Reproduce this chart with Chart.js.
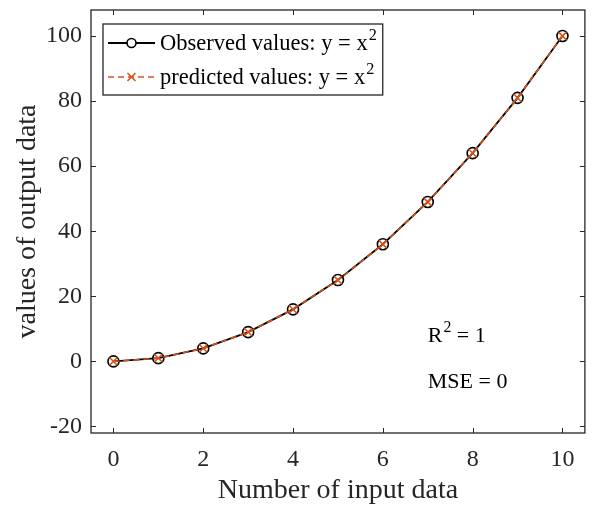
<!DOCTYPE html>
<html><head><meta charset="utf-8">
<script src="https://cdn.jsdelivr.net/npm/chart.js@4.4.0/dist/chart.umd.min.js"></script>
<style>html,body{margin:0;padding:0;background:#fff}#wrap{width:592px;height:506px;position:relative}</style>
</head><body><div id="wrap"><canvas id="c"></canvas></div>
<script>
const inputData = [0,1,2,3,4,5,6,7,8,9,10];
const observedValues = [0,1,4,9,16,25,36,49,64,81,100];
const predictedValues = [0,1,4,9,16,25,36,49,64,81,100];
const xTickValues = [0,2,4,6,8,10];
const yTickValues = [-20,0,20,40,60,80,100];
const seriesLabels = ['Observed values: y = x^2', 'predicted values: y = x^2'];
const annotationTexts = ['R^2 = 1', 'MSE = 0'];
const annotationX = [7, 7];
const annotationY = [7.8, -6.3];
const xTitle = 'Number of input data';
const yTitle = 'values of output data';

const FONT = '"Liberation Serif", "Times New Roman", serif';
const AXIS_COLOR = '#262626';
const ORANGE = '#D95319';

function drawRich(ctx, text, x, y, size, color) {
  const parts = text.split('^');
  ctx.fillStyle = color;
  ctx.textAlign = 'left';
  ctx.font = size + 'px ' + FONT;
  ctx.fillText(parts[0], x, y);
  let w = ctx.measureText(parts[0]).width;
  if (parts.length > 1) {
    const sup = parts[1].charAt(0);
    const rest = parts[1].slice(1);
    const s = size * 0.72;
    ctx.font = s + 'px ' + FONT;
    ctx.fillText(sup, x + w + 1, y - size * 0.38);
    w += ctx.measureText(sup).width + 1;
    ctx.font = size + 'px ' + FONT;
    if (rest) { ctx.fillText(rest, x + w, y); w += ctx.measureText(rest).width; }
  }
  return w;
}
function richWidth(ctx, text, size) {
  const parts = text.split('^');
  ctx.font = size + 'px ' + FONT;
  let w = ctx.measureText(parts[0]).width;
  if (parts.length > 1) {
    ctx.font = (size*0.72) + 'px ' + FONT;
    w += ctx.measureText(parts[1].charAt(0)).width + 1;
    ctx.font = size + 'px ' + FONT;
    w += ctx.measureText(parts[1].slice(1)).width;
  }
  return w;
}

const boxPlugin = {
  id: 'matlabBox',
  beforeDatasetsDraw(chart) {
    const {ctx, chartArea: a, scales: {x, y}} = chart;
    ctx.save();
    ctx.strokeStyle = AXIS_COLOR;
    ctx.lineWidth = 1.3;
    ctx.strokeRect(a.left, a.top, a.right - a.left, a.bottom - a.top);
    ctx.lineWidth = 1;
    const tl = 5;
    ctx.beginPath();
    xTickValues.forEach(v => {
      const px = Math.round(x.getPixelForValue(v)) + 0.5;
      ctx.moveTo(px, a.bottom); ctx.lineTo(px, a.bottom - tl);
      ctx.moveTo(px, a.top); ctx.lineTo(px, a.top + tl);
    });
    yTickValues.forEach(v => {
      const py = Math.round(y.getPixelForValue(v)) + 0.5;
      ctx.moveTo(a.left, py); ctx.lineTo(a.left + tl, py);
      ctx.moveTo(a.right, py); ctx.lineTo(a.right - tl, py);
    });
    ctx.stroke();
    ctx.restore();
  },
  afterDatasetsDraw(chart) {
    const {ctx, chartArea: a, scales: {x, y}} = chart;
    ctx.save();
    ctx.textBaseline = 'middle';
    annotationTexts.forEach((t, i) => {
      drawRich(ctx, t, x.getPixelForValue(annotationX[i]), y.getPixelForValue(annotationY[i]), 22, '#000');
    });
    const fs = 22.5;
    const bl = a.left + 12, bt = a.top + 14;
    const tw = Math.max(...seriesLabels.map(l => richWidth(ctx, l, fs)));
    const bw = 57 + tw + 6, bh = 71;
    ctx.fillStyle = '#fff';
    ctx.fillRect(bl, bt, bw, bh);
    ctx.strokeStyle = AXIS_COLOR;
    ctx.lineWidth = 1.3;
    ctx.strokeRect(bl, bt, bw, bh);
    chart.data.datasets.forEach((ds, i) => {
      const cy = bt + 19 + i * 34;
      const x0 = bl + 5, x1 = bl + 52, cx = (x0 + x1) / 2;
      ctx.strokeStyle = ds.borderColor;
      ctx.lineWidth = ds.borderWidth;
      ctx.setLineDash(ds.borderDash || []);
      ctx.beginPath(); ctx.moveTo(x0, cy); ctx.lineTo(x1, cy); ctx.stroke();
      ctx.setLineDash([]);
      ctx.lineWidth = ds.pointBorderWidth;
      ctx.strokeStyle = ds.pointBorderColor;
      ctx.beginPath();
      if (ds.pointStyle === 'circle') {
        ctx.fillStyle = '#fff';
        ctx.arc(cx, cy, 4.5, 0, Math.PI * 2);
        ctx.fill();
      } else {
        const r = 4;
        ctx.moveTo(cx - r, cy - r); ctx.lineTo(cx + r, cy + r);
        ctx.moveTo(cx - r, cy + r); ctx.lineTo(cx + r, cy - r);
      }
      ctx.stroke();
      ctx.textBaseline = 'middle';
      drawRich(ctx, seriesLabels[i], bl + 57, cy + 1, fs, '#000');
    });
    ctx.restore();
  }
};

new Chart(document.getElementById('c'), {
  type: 'line',
  data: {
    labels: inputData,
    datasets: [
      {
        label: seriesLabels[0],
        data: inputData.map((v, i) => ({x: v, y: observedValues[i]})),
        order: 1,
        borderColor: '#000',
        borderWidth: 1.8,
        pointStyle: 'circle',
        pointRadius: 5.5,
        pointBorderColor: '#000',
        pointBorderWidth: 1.6,
        pointBackgroundColor: 'rgba(0,0,0,0)',
        tension: 0,
        fill: false
      },
      {
        label: seriesLabels[1],
        data: inputData.map((v, i) => ({x: v, y: predictedValues[i]})),
        order: 0,
        borderColor: ORANGE,
        borderWidth: 1.5,
        borderDash: [6, 4],
        pointStyle: 'crossRot',
        pointRadius: 5.5,
        pointBorderColor: ORANGE,
        pointBorderWidth: 1.6,
        pointBackgroundColor: ORANGE,
        tension: 0,
        fill: false
      }
    ]
  },
  options: {
    responsive: true,
    maintainAspectRatio: false,
    animation: false,
    devicePixelRatio: 1,
    layout: { padding: { top: 10, right: 1, left: 0, bottom: 0 } },
    plugins: { legend: { display: false }, tooltip: { enabled: false } },
    scales: {
      x: {
        type: 'linear',
        min: -0.5, max: 10.5,
        afterBuildTicks: s => { s.ticks = xTickValues.map(v => ({value: v})); },
        afterFit: s => { s.height = 73; s.paddingLeft = 0; s.paddingRight = 0; },
        grid: { display: false, drawTicks: false },
        border: { display: false },
        ticks: { padding: 12, color: AXIS_COLOR, font: { family: FONT, size: 24 }, maxRotation: 0 },
        title: { display: true, text: xTitle, color: AXIS_COLOR, font: { family: FONT, size: 28, lineHeight: 1 }, padding: { top: 0, bottom: 1 } }
      },
      y: {
        type: 'linear',
        min: -22, max: 108,
        afterBuildTicks: s => { s.ticks = yTickValues.map(v => ({value: v})); },
        afterFit: s => { s.width = 91; s.paddingTop = 0; s.paddingBottom = 0; },
        grid: { display: false, drawTicks: false },
        border: { display: false },
        ticks: { padding: 9, color: AXIS_COLOR, font: { family: FONT, size: 24 } },
        title: { display: true, text: yTitle, color: AXIS_COLOR, font: { family: FONT, size: 28 }, padding: { top: 11, bottom: 0 } }
      }
    }
  },
  plugins: [boxPlugin]
});
</script>
</body></html>
